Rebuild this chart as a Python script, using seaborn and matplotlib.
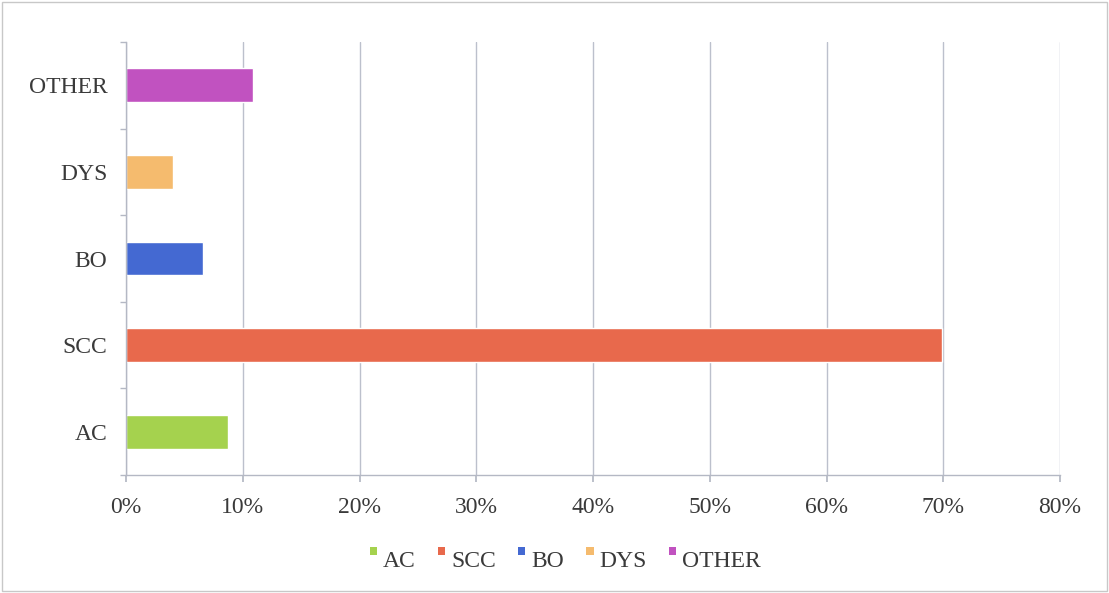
import matplotlib
matplotlib.use("Agg")
import matplotlib.pyplot as plt
from matplotlib.ticker import PercentFormatter, FixedLocator
from matplotlib.patches import Rectangle
from matplotlib.legend_handler import HandlerBase
import seaborn as sns
import pandas as pd

# Share of cases by diagnosis (percent)
categories = ["AC", "SCC", "BO", "DYS", "OTHER"]
shares = [8.7, 69.9, 6.6, 4.0, 10.9]
colors = ["#a5d24e", "#e8694c", "#4469d2", "#f5bb6e", "#c152c0"]
x_ticks = [0, 10, 20, 30, 40, 50, 60, 70, 80]

sns.set_theme(style="white")
plt.rcParams["font.family"] = ["Liberation Serif", "DejaVu Serif"]

df = pd.DataFrame({"category": categories, "share": shares})
palette = dict(zip(categories, colors))
order = categories[::-1]  # top-to-bottom: OTHER ... AC

fig = plt.figure(figsize=(11.09, 5.93), dpi=100)
ax = fig.add_axes([126 / 1109, 1 - 475 / 593, (1060 - 126) / 1109, (475 - 42) / 593])

sns.barplot(data=df, x="share", y="category", hue="category", order=order,
            hue_order=categories, palette=palette, dodge=False, width=0.39,
            saturation=1, legend=False, ax=ax)

ax.set_xlim(0, 80)
ax.set_xlabel("")
ax.set_ylabel("")
ax.xaxis.set_major_locator(FixedLocator(x_ticks))
ax.xaxis.set_major_formatter(PercentFormatter(decimals=0))
ax.grid(axis="x", color="#bcc0cc", linewidth=1.0)
ax.set_axisbelow(True)

for side in ["top", "right"]:
    ax.spines[side].set_visible(False)
for side in ["left", "bottom"]:
    ax.spines[side].set_color("#b4b8c4")
    ax.spines[side].set_linewidth(1.0)

ax.tick_params(axis="both", labelsize=17, colors="#3a3a3a", length=0)
ax.tick_params(axis="y", pad=13.5)
ax.tick_params(axis="x", pad=11)
ax.set_yticks(range(len(order)))
ax.set_yticklabels(order)
# short marks separating categories on the left axis
ax.set_yticks([i + 0.5 for i in range(-1, len(order))], minor=True)
ax.tick_params(axis="y", which="minor", length=4, color="#b4b8c4", left=True)
ax.tick_params(axis="x", which="major", length=5, color="#b4b8c4", bottom=True)


class RaisedSquare(HandlerBase):
    """Small square key sitting at the top of the legend text line."""

    def create_artists(self, legend, orig_handle, xdescent, ydescent,
                       width, height, fontsize, trans):
        side = 5.4
        sq = Rectangle((width - side, height - side + 2.0), side, side,
                       facecolor=orig_handle.get_facecolor(), edgecolor="none",
                       transform=trans)
        return [sq]


handles = [Rectangle((0, 0), 1, 1, facecolor=c) for c in colors]
fig.legend(handles, categories, loc="center", bbox_to_anchor=(565 / 1109, 1 - 561 / 593),
           ncol=5, frameon=False, fontsize=17, handlelength=0.35,
           handletextpad=0.25, columnspacing=0.9, labelcolor="#3a3a3a",
           handler_map={Rectangle: RaisedSquare()})

# thin frame around the chart area
fig.patches.append(Rectangle((0.002, 0.003), 0.996, 0.994, transform=fig.transFigure,
                             fill=False, edgecolor="#c8c8c8", linewidth=1.0))

fig.savefig("out.png", dpi=100)
